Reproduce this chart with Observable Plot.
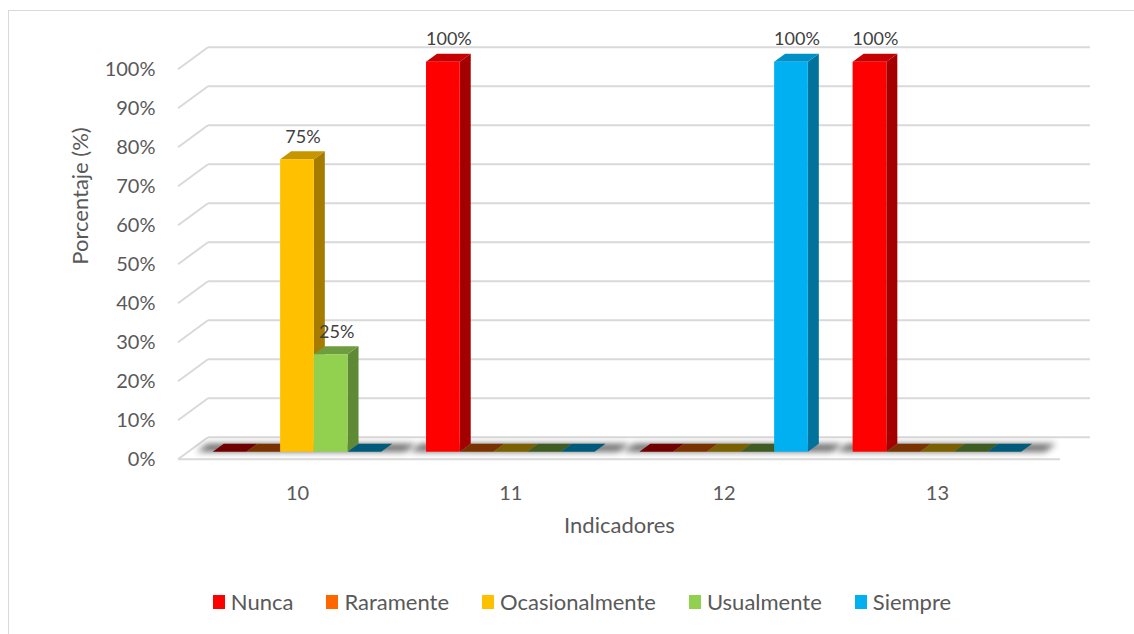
<!DOCTYPE html>
<html><head><meta charset="utf-8">
<script src="https://cdn.jsdelivr.net/npm/d3@7"></script>
<script src="https://cdn.jsdelivr.net/npm/@observablehq/plot@0.6"></script>
<style>
body{margin:0;background:#fff;font-family:Lato,sans-serif;overflow:hidden;width:1134px;height:634px;position:relative}
#frame{position:absolute;left:8px;top:10px;width:1200px;height:700px;border:1px solid #d9d9d9;box-sizing:border-box}
#chart{position:absolute;left:0;top:0}
#legend{position:absolute;top:590px;left:0;width:1164px;display:flex;justify-content:center;gap:33px;font-size:22px;color:#595959;line-height:24px}
.item{display:flex;align-items:center;gap:6px}
.sw{width:12px;height:14px;display:inline-block}
</style></head><body>
<div id="frame"></div><div id="chart"></div><div id="legend"></div>
<script>
// ---- data ----
const indicadores = ["10", "11", "12", "13"];
const series = ["Nunca", "Raramente", "Ocasionalmente", "Usualmente", "Siempre"];
const nunca = [0, 100, 0, 100];
const raramente = [0, 0, 0, 0];
const ocasionalmente = [75, 0, 0, 0];
const usualmente = [25, 0, 0, 0];
const siempre = [0, 0, 100, 0];
const yTicks = [0, 10, 20, 30, 40, 50, 60, 70, 80, 90, 100];

// ---- styles ----
const frontColors = ["#FF0000", "#FF6600", "#FFC000", "#92D050", "#00B0F0"];
const sideColors  = ["#A50000", "#A84300", "#A67C00", "#5F8A35", "#00729C"];
const topColors   = ["#C40000", "#C65000", "#C79500", "#6E9C3E", "#0090C6"];
const flatColors  = ["#700000", "#7A3300", "#7A6000", "#3F5C22", "#005A7A"];

const valuesBySeries = [nunca, raramente, ocasionalmente, usualmente, siempre];
const table = [];
indicadores.forEach((ind, i) => series.forEach((s, si) => table.push({ind, serie: s, si, value: valuesBySeries[si][i]})));

// ---- layout ----
const W = 1134, H = 560;
const ml = 188, mr = 64, mt = 61.7, mb = H - 451.7;
const pIn = 0.21, pOut = 0.1725, align = 0.336;
const step = (W - ml - mr) / (indicadores.length - pIn + 2 * pOut);
const band = step * (1 - pIn);
const bw = band / series.length;
const DX = 11, DY = 8;            // bar depth
const FX = -10, FY = 7.5;         // floor front edge offset
const BX = 20, BY = -14.5;        // back wall offset

function poly(g, pts, fill) {
  g.append("polygon").attr("points", pts.map(p => p.join(",")).join(" ")).attr("fill", fill);
}

function grid(index, scales, values, dims) {
  const g = d3.create("svg:g");
  const Y = scales.y;
  const x0 = dims.marginLeft, x1 = dims.width - dims.marginRight;
  for (const v of yTicks) {
    const yb = Y(v) + BY, yf = Y(v) + FY;
    g.append("line").attr("x1", x0 + BX).attr("x2", x1 + BX).attr("y1", yb).attr("y2", yb)
      .attr("stroke", "#d9d9d9").attr("stroke-width", 2);
    g.append("line").attr("x1", x0 + FX).attr("x2", x0 + BX).attr("y1", yf).attr("y2", yb)
      .attr("stroke", "#d9d9d9").attr("stroke-width", 2);
  }
  const yf0 = Y(0) + FY;
  g.append("line").attr("x1", x0 + FX).attr("x2", x1 + FX).attr("y1", yf0).attr("y2", yf0)
    .attr("stroke", "#d9d9d9").attr("stroke-width", 2);
  // shadows
  const defs = g.append("defs");
  defs.append("filter").attr("id", "shblur").attr("x", "-20%").attr("y", "-200%").attr("width", "140%").attr("height", "500%")
    .append("feGaussianBlur").attr("stdDeviation", 3);
  const X = scales.x;
  const b = X.bandwidth ? X.bandwidth() : band;
  for (const ind of indicadores) {
    const xa = X(ind) - 16, xb = X(ind) + b + 24, y0 = Y(0);
    g.append("polygon").attr("points", [[xa, y0], [xb, y0], [xb + DX, y0 - DY], [xa + DX, y0 - DY]].map(p => p.join(",")).join(" "))
      .attr("fill", "#3a3a3a").attr("opacity", 0.75).attr("filter", "url(#shblur)");
  }
  return g.node();
}

function depth(index, scales) {
  const g = d3.create("svg:g");
  const X = scales.x, Y = scales.y;
  const w = (X.bandwidth ? X.bandwidth() : band) / series.length;
  for (const d of table) {
    const x1 = X(d.ind) + d.si * w, x2 = x1 + w, y0 = Y(0), yv = Y(d.value);
    if (d.value > 0) {
      poly(g, [[x2, y0], [x2 + DX, y0 - DY], [x2 + DX, yv - DY], [x2, yv]], sideColors[d.si]);
      poly(g, [[x1, yv], [x2, yv], [x2 + DX, yv - DY], [x1 + DX, yv - DY]], topColors[d.si]);
    } else {
      poly(g, [[x1, yv], [x2, yv], [x2 + DX, yv - DY], [x1 + DX, yv - DY]], flatColors[d.si]);
    }
  }
  return g.node();
}

const chart = Plot.plot({
  width: W, height: H,
  marginLeft: ml, marginRight: mr, marginTop: mt, marginBottom: mb,
  style: {fontFamily: "Lato, sans-serif", color: "#595959", background: "transparent", overflow: "visible"},
  x: {type: "band", domain: indicadores, paddingInner: pIn, paddingOuter: pOut, align, round: false, axis: null},
  y: {domain: [0, 100], axis: null},
  marks: [
    grid,
    depth,
    ...series.map((s, si) => Plot.barY(table.filter(d => d.serie === s), {
      x: "ind", y: "value", fill: frontColors[si],
      insetLeft: si * bw, insetRight: (series.length - 1 - si) * bw
    })),
    ...series.map((s, si) => Plot.text(table.filter(d => d.serie === s && d.value > 0), {
      x: "ind", y: "value", text: d => d.value + "%",
      dx: (si - (series.length - 1) / 2) * bw + DX / 2, dy: -22.7,
      fontSize: 18, fill: "#404040"
    })),
    Plot.axisY(yTicks, {tickSize: 0, tickPadding: 33, dy: FY, tickFormat: d => d + "%", fontSize: 20, label: null}),
    Plot.axisX({tickSize: 0, tickPadding: 26, dx: 0, dy: FY, fontSize: 20, label: null}),
    Plot.text(["Porcentaje (%)"], {frameAnchor: "left", text: d => d, rotate: -90, dx: -108, dy: FY, fontSize: 22}),
    Plot.text(["Indicadores"], {frameAnchor: "bottom", text: d => d, dx: FX, dy: 81, fontSize: 22})
  ]
});
document.getElementById("chart").appendChild(chart);

const legend = document.getElementById("legend");
series.forEach((s, si) => {
  const it = document.createElement("div");
  it.className = "item";
  it.innerHTML = `<span class="sw" style="background:${frontColors[si]}"></span><span>${s}</span>`;
  legend.appendChild(it);
});
</script>
</body></html>
